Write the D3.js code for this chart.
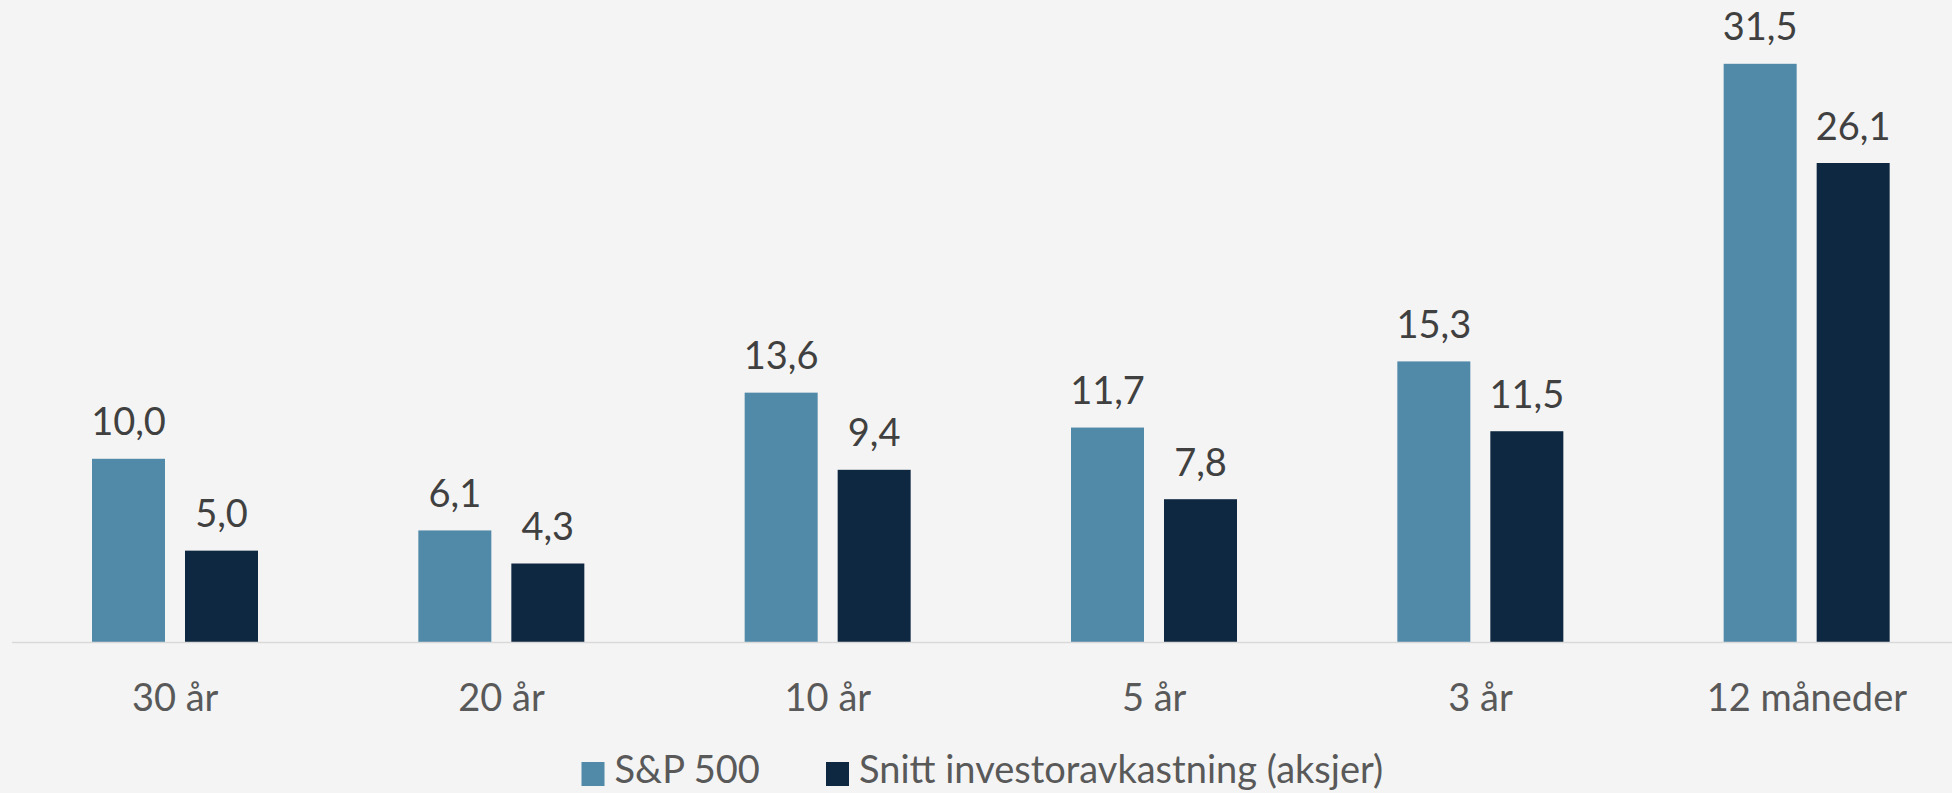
<!DOCTYPE html>
<html>
<head>
<meta charset="utf-8">
<script src="https://cdn.jsdelivr.net/npm/d3@7"></script>
<style>
  html, body { margin: 0; padding: 0; background: #f4f4f4; overflow: hidden; }
  svg { display: block; font-family: Lato, 'Open Sans', sans-serif; }
</style>
</head>
<body>
<svg width="1952" height="793"></svg>
<script>
// data
let categories = ['30 år', '20 år', '10 år', '5 år', '3 år', '12 måneder']
let seriesNames = ['S&P 500', 'Snitt investoravkastning (aksjer)']
let sp500 = [10.0, 6.1, 13.6, 11.7, 15.3, 31.5]
let investor = [5.0, 4.3, 9.4, 7.8, 11.5, 26.1]
let colors = ['#508aa8', '#0e2841']

window.onload = function () {
  let svg = d3.select('svg')
  let width = +svg.attr('width')

  let baseY = 642.5
  let fontSize = 38
  let fmt = function (v) { return v.toFixed(1).replace('.', ',') }

  // category scale (chart runs a little past the right edge)
  let x0 = d3.scaleBand().domain(categories).range([12, 1970]).padding(0)
  // bars inside each group
  let x1 = d3.scaleBand().domain(seriesNames).range([80, 246]).paddingInner(0.215).paddingOuter(0)
  let y = d3.scaleLinear().domain([0, 35]).range([baseY, -0.5])

  let rows = categories.map(function (c, i) {
    return { cat: c, values: [sp500[i], investor[i]] }
  })

  let groups = svg.append('g')
    .selectAll('g')
    .data(rows)
    .enter()
    .append('g')
    .attr('transform', function (d) { return 'translate(' + x0(d.cat) + ',0)' })

  groups.selectAll('rect')
    .data(function (d) { return d.values.map(function (v, j) { return { name: seriesNames[j], v: v, j: j } }) })
    .enter()
    .append('rect')
    .attr('x', function (d) { return x1(d.name) })
    .attr('width', x1.bandwidth())
    .attr('y', function (d) { return y(d.v) })
    .attr('height', function (d) { return baseY - y(d.v) })
    .attr('fill', function (d) { return colors[d.j] })

  // value labels
  groups.selectAll('text')
    .data(function (d) { return d.values.map(function (v, j) { return { name: seriesNames[j], v: v } }) })
    .enter()
    .append('text')
    .attr('x', function (d) { return x1(d.name) + x1.bandwidth() / 2 })
    .attr('y', function (d) { return y(d.v) - 23.5 })
    .attr('text-anchor', 'middle')
    .attr('font-size', fontSize)
    .attr('fill', '#404040')
    .text(function (d) { return fmt(d.v) })

  // x axis
  let axis = svg.append('g')
    .attr('transform', 'translate(0,' + baseY + ')')
    .call(d3.axisBottom(x0).tickSize(0).tickPadding(0))
  axis.select('.domain').attr('stroke', '#d9d9d9').attr('stroke-width', 1.5)
    .attr('d', 'M12,0H' + width)
  axis.selectAll('text')
    .attr('font-size', fontSize)
    .attr('font-family', 'Lato, sans-serif')
    .attr('fill', '#595959')
    .attr('dy', null)
    .attr('y', 68)

  // legend, item starts
  let legendX = [581.5, 826]
  let legend = svg.append('g')
  seriesNames.forEach(function (name, i) {
    let item = legend.append('g').attr('transform', 'translate(' + legendX[i] + ',0)')
    item.append('rect')
      .attr('x', 0).attr('y', 762)
      .attr('width', 23).attr('height', 24)
      .attr('fill', colors[i])
    item.append('text')
      .attr('x', 33).attr('y', 783)
      .attr('font-size', fontSize)
      .attr('fill', '#595959')
      .text(name)
  })
}
</script>
</body>
</html>
